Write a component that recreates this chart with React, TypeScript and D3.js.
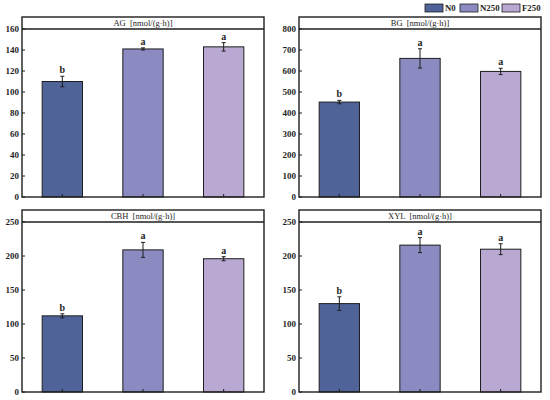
import React from "react";
import * as d3 from "d3";

const treatments = ["N0", "N250", "F250"];
const colors = ["#4f6399", "#8b8bc1", "#b9a8d2"];

const panelTitles = ["AG  [nmol/(g·h)]", "BG  [nmol/(g·h)]", "CBH  [nmol/(g·h)]", "XYL  [nmol/(g·h)]"];
const agMeans = [110, 141, 143];
const agErr = [5, 1, 4];
const bgMeans = [452, 660, 598];
const bgErr = [8, 46, 15];
const cbhMeans = [112, 209, 196];
const cbhErr = [3, 11, 3];
const xylMeans = [130, 216, 210];
const xylErr = [10, 11, 8];
const agLetters = ["b", "a", "a"];
const bgLetters = ["b", "a", "a"];
const cbhLetters = ["b", "a", "a"];
const xylLetters = ["b", "a", "a"];
const agTicks = [0, 20, 40, 60, 80, 100, 120, 140, 160];
const bgTicks = [0, 100, 200, 300, 400, 500, 600, 700, 800];
const cbhTicks = [0, 50, 100, 150, 200, 250];
const xylTicks = [0, 50, 100, 150, 200, 250];

const panels = [
  { title: panelTitles[0], means: agMeans, err: agErr, letters: agLetters, ticks: agTicks, x0: 22, x1: 264, top: 17, plotTop: 29, bottom: 197 },
  { title: panelTitles[1], means: bgMeans, err: bgErr, letters: bgLetters, ticks: bgTicks, x0: 299, x1: 541, top: 17, plotTop: 29, bottom: 197 },
  { title: panelTitles[2], means: cbhMeans, err: cbhErr, letters: cbhLetters, ticks: cbhTicks, x0: 22, x1: 264, top: 210, plotTop: 222, bottom: 392 },
  { title: panelTitles[3], means: xylMeans, err: xylErr, letters: xylLetters, ticks: xylTicks, x0: 299, x1: 541, top: 210, plotTop: 222, bottom: 392 },
];

const ink = "#1e1e1e";
const font = "'Liberation Serif', 'Times New Roman', serif";

function Panel({ p }: { p: typeof panels[number] }) {
  const x = d3.scaleBand<string>().domain(treatments).range([p.x0, p.x1]).paddingInner(0.5).paddingOuter(0.25);
  const maxT = p.ticks[p.ticks.length - 1];
  const y = d3.scaleLinear().domain([0, maxT]).range([p.bottom, p.plotTop]);
  return (
    <g>
      {p.means.map((m, i) => {
        const t = treatments[i];
        const bx = x(t)!;
        const cx = bx + x.bandwidth() / 2;
        const hi = y(m + p.err[i]);
        const lo = y(m - p.err[i]);
        return (
          <g key={t}>
            <rect x={bx} y={y(m)} width={x.bandwidth()} height={p.bottom - y(m)} fill={colors[i]} stroke={ink} strokeWidth={1} />
            <line x1={cx} x2={cx} y1={hi} y2={lo} stroke={ink} strokeWidth={1} />
            <line x1={cx - 2} x2={cx + 2} y1={hi} y2={hi} stroke={ink} strokeWidth={1} />
            <line x1={cx - 2} x2={cx + 2} y1={lo} y2={lo} stroke={ink} strokeWidth={1} />
            <text x={cx} y={hi - 3} textAnchor="middle" fontFamily={font} fontWeight="bold" fontSize={10} fill={ink}>{p.letters[i]}</text>
            <line x1={cx} x2={cx} y1={p.bottom} y2={p.bottom - 3} stroke={ink} strokeWidth={1} />
          </g>
        );
      })}
      {p.ticks.map((t) => (
        <g key={t}>
          <line x1={p.x0} x2={p.x0 + 3} y1={y(t)} y2={y(t)} stroke={ink} strokeWidth={1} />
          <text x={p.x0 - 3} y={y(t)} dy="0.33em" textAnchor="end" fontFamily={font} fontWeight="bold" fontSize={9} fill={ink}>{t}</text>
        </g>
      ))}
      <rect x={p.x0} y={p.top} width={p.x1 - p.x0} height={p.bottom - p.top} fill="none" stroke={ink} strokeWidth={1.4} />
      <line x1={p.x0} x2={p.x1} y1={p.plotTop} y2={p.plotTop} stroke={ink} strokeWidth={1.4} />
      <text x={(p.x0 + p.x1) / 2} y={(p.top + p.plotTop) / 2} dy="0.35em" textAnchor="middle" fontFamily={font} fontSize={8.5} fill={ink} style={{ whiteSpace: "pre" }}>{p.title}</text>
    </g>
  );
}

export default function App() {
  const legendX = [425, 460, 502];
  return (
    <svg width={550} height={400} style={{ position: "absolute", left: 0, top: 0, background: "#fff" }}>
      <rect width={550} height={400} fill="#fff" />
      {panels.map((p, i) => <Panel key={i} p={p} />)}
      {treatments.map((t, i) => (
        <g key={t}>
          <rect x={legendX[i]} y={4} width={18} height={8} fill={colors[i]} stroke={ink} strokeWidth={0.8} />
          <text x={legendX[i] + 20} y={8} dy="0.35em" fontFamily={font} fontWeight="bold" fontSize={8.8} fill={ink}>{t}</text>
        </g>
      ))}
    </svg>
  );
}
